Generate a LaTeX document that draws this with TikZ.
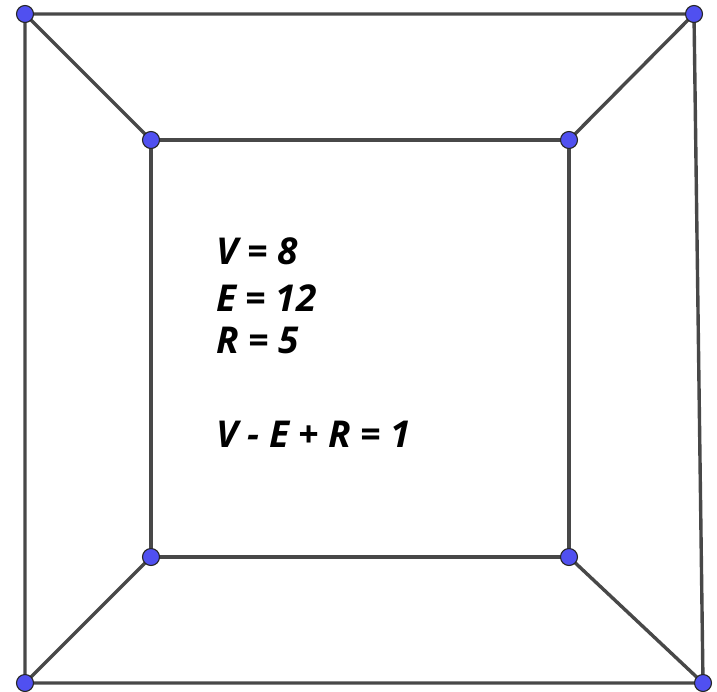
\documentclass[tikz,border=0pt]{standalone}
\usepackage{fontspec}
\setsansfont{Open Sans}
\usepackage{tikz}
\definecolor{ptblue}{RGB}{80,80,240}
\definecolor{edgegray}{RGB}{72,72,72}

\begin{document}
\begin{tikzpicture}[
  x=1pt, y=-1pt,
  pt/.style={circle, draw=black!85, line width=1.1pt, fill=ptblue, inner sep=0pt, minimum size=17pt},
  edge/.style={draw=edgegray, line width=3.4pt},
  eq/.style={anchor=base west, inner sep=0pt, font=\sffamily\bfseries\itshape\fontsize{37}{40}\selectfont},
]
  \useasboundingbox (0,0) rectangle (717,691);

  % outer square
  \coordinate (o1) at (25,14);
  \coordinate (o2) at (694,14);
  \coordinate (o3) at (703,683);
  \coordinate (o4) at (25,683);
  % inner square
  \coordinate (i1) at (151,140);
  \coordinate (i2) at (569,140);
  \coordinate (i3) at (569,557);
  \coordinate (i4) at (151,557);

  \draw[edge] (o1) -- (o2) -- (o3) -- (o4) -- cycle;
  \draw[edge] (i1) -- (i2) -- (i3) -- (i4) -- cycle;
  \draw[edge] (o1) -- (i1);
  \draw[edge] (o2) -- (i2);
  \draw[edge] (o3) -- (i3);
  \draw[edge] (o4) -- (i4);

  \foreach \p in {o1,o2,o3,o4,i1,i2,i3,i4}
    \node[pt] (n\p) at (\p) {};

  \node[eq] (vline) at (216,264) {V = 8};
  \node[eq] (eline) at (216,311) {E = 12};
  \node[eq] (rline) at (216,353) {R = 5};
  \node[eq] (euler) at (216,447) {V - E + R = 1};
\end{tikzpicture}
\end{document}
